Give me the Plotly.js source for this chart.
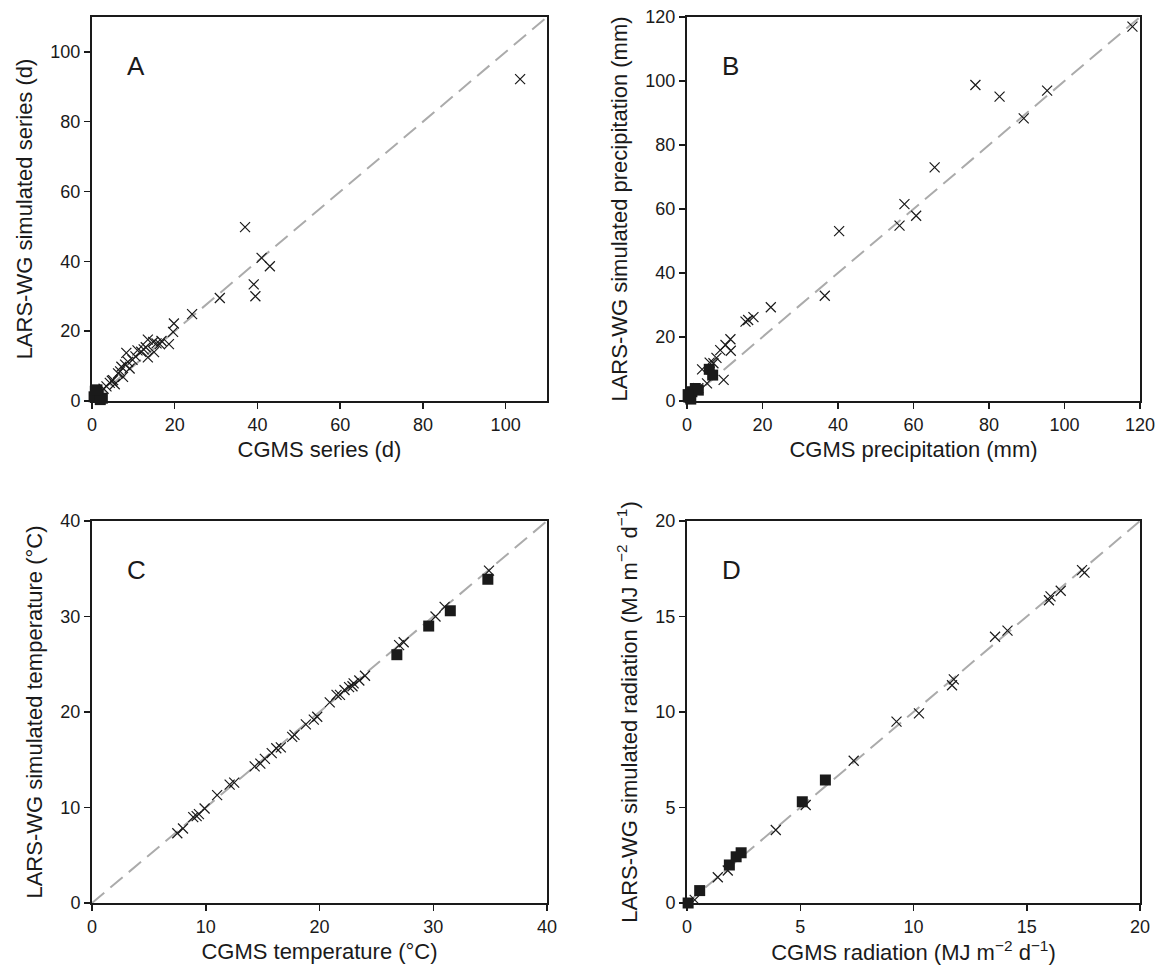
<!DOCTYPE html>
<html>
<head>
<meta charset="utf-8">
<script src="https://cdn.plot.ly/plotly-3.0.1.min.js"></script>
<style>html,body{margin:0;padding:0;background:#fff}#chart{width:1161px;height:974px}</style>
</head>
<body>
<div id="chart"></div>
<script>
// ---------- Panel A: series length (d) ----------
const aCrossX = [37, 41, 43, 39.1, 39.5, 30.9, 24.2, 19.8, 19.6, 18.6, 13.5, 14.8, 15.6, 16.4, 13.5, 11.9, 8.3, 8.7, 7.1, 9.1, 6.3, 7.5, 5.1, 4.3, 5.5, 103.5, 12.5, 10.5, 11, 13, 9.8, 6.8, 8, 3.5, 4.8, 2.8, 15, 16.8];
const aCrossY = [49.8, 41, 38.6, 33.4, 30, 29.5, 24.9, 22.2, 19.8, 16.3, 17.6, 16.9, 16.5, 16.3, 12.5, 14.1, 13.8, 11.2, 9.8, 9.3, 7.9, 6.9, 6, 5.2, 4.8, 92.2, 14.8, 12.8, 14.5, 15.4, 11.8, 8.5, 10.4, 4.2, 5.8, 3.5, 14, 17.2];
const aSqX = [0.8, 1.5, 2.5, 0.5, 2.0, 1.2];
const aSqY = [2.8, 2.0, 0.8, 1.2, 0.4, 3.2];
const aLine = [0, 110];

// ---------- Panel B: precipitation (mm) ----------
const bCrossX = [118, 76.4, 82.8, 95.4, 89.2, 65.6, 57.6, 60.7, 56.3, 40.3, 36.5, 22.2, 17.6, 16.2, 15.5, 11.5, 8.8, 11.6, 4.0, 7.0, 5.3, 9.7, 10.2, 7.8, 3.0, 6.0];
const bCrossY = [117, 98.75, 95.1, 97, 88.3, 73, 61.5, 57.9, 54.8, 53.1, 32.9, 29.3, 26.2, 25.3, 24.8, 19.3, 15.9, 15.7, 9.9, 11.8, 5.5, 6.6, 17.5, 13.5, 4.0, 12.0];
const bSqX = [5.9, 6.8, 1.3, 2.2, 0.5, 1.0, 3.0, 0.3];
const bSqY = [9.9, 8.1, 2.9, 3.9, 1.2, 0.6, 3.4, 2.0];
const bLine = [0, 120];

// ---------- Panel C: temperature (°C) ----------
const cCrossX = [7.5, 8.0, 8.9, 9.4, 9.9, 11.0, 12.1, 12.5, 14.3, 14.8, 15.8, 16.2, 16.6, 17.6, 17.8, 19.5, 19.8, 20.9, 21.5, 21.8, 22.2, 22.6, 23.0, 23.5, 24.0, 27.0, 27.4, 30.2, 31.0, 34.9, 9.2, 15.2, 18.8, 22.9];
const cCrossY = [7.3, 7.8, 9.0, 9.3, 9.9, 11.3, 12.4, 12.6, 14.3, 14.6, 15.7, 16.2, 16.3, 17.4, 17.6, 19.2, 19.5, 21.0, 21.8, 21.8, 22.3, 22.6, 23.0, 23.3, 23.8, 27.0, 27.3, 30.0, 31.0, 34.8, 9.1, 15.1, 18.7, 22.7];
const cSqX = [26.8, 29.6, 31.5, 34.8];
const cSqY = [26.0, 29.0, 30.6, 33.9];
const cLine = [0, 40];

// ---------- Panel D: radiation (MJ m-2 d-1) ----------
const dCrossX = [0.34, 1.36, 1.8, 3.92, 5.24, 7.36, 9.25, 10.24, 11.7, 11.78, 13.6, 14.15, 15.98, 16.05, 16.5, 17.44, 17.55];
const dCrossY = [0.16, 1.35, 1.7, 3.82, 5.13, 7.45, 9.5, 9.93, 11.4, 11.71, 13.94, 14.26, 15.85, 16.05, 16.35, 17.43, 17.3];
const dSqX = [0.05, 0.56, 1.87, 2.17, 2.39, 5.09, 6.11];
const dSqY = [0.0, 0.65, 1.99, 2.42, 2.63, 5.3, 6.44];
const dLine = [0, 20];

// ---------- Text ----------
const panelLabels = ['A', 'B', 'C', 'D'];
const xTitles = ['CGMS series (d)', 'CGMS precipitation (mm)', 'CGMS temperature (°C)', 'CGMS radiation (MJ m<sup>−2</sup> d<sup>−1</sup>)'];
const yTitles = ['LARS-WG simulated series (d)', 'LARS-WG simulated precipitation (mm)', 'LARS-WG simulated temperature (°C)', 'LARS-WG simulated radiation (MJ m<sup>−2</sup> d<sup>−1</sup>)'];

const FONT = '"Liberation Sans", Arial, Helvetica, sans-serif';
const INK = '#1a1a1a';

const panels = [
  {cx: aCrossX, cy: aCrossY, sx: aSqX, sy: aSqY, line: aLine, range: [0, 110], dtick: 20},
  {cx: bCrossX, cy: bCrossY, sx: bSqX, sy: bSqY, line: bLine, range: [0, 120], dtick: 20},
  {cx: cCrossX, cy: cCrossY, sx: cSqX, sy: cSqY, line: cLine, range: [0, 40], dtick: 10},
  {cx: dCrossX, cy: dCrossY, sx: dSqX, sy: dSqY, line: dLine, range: [0, 20], dtick: 5}
];

const W = 1161, H = 974;
const xDom = [[92 / W, 547 / W], [687 / W, 1140 / W]];
const yDom = [[(H - 401) / H, (H - 17) / H], [(H - 903) / H, (H - 521) / H]];

const traces = [];
const layout = {
  width: W, height: H,
  margin: {l: 0, r: 0, t: 0, b: 0},
  paper_bgcolor: '#fff', plot_bgcolor: '#fff',
  showlegend: false,
  font: {family: FONT, color: INK, size: 18},
  annotations: []
};

panels.forEach((p, i) => {
  const n = i + 1;
  const xa = 'x' + (n === 1 ? '' : n), ya = 'y' + (n === 1 ? '' : n);
  traces.push({
    x: p.line, y: p.line, xaxis: xa, yaxis: ya, mode: 'lines', type: 'scatter',
    line: {color: '#ababab', width: 2, dash: '16px,8px'}, hoverinfo: 'skip'
  });
  traces.push({
    x: p.cx, y: p.cy, xaxis: xa, yaxis: ya, mode: 'markers', type: 'scatter', cliponaxis: false,
    marker: {symbol: 'x-thin', size: 10, color: INK, line: {color: INK, width: 1.2}}
  });
  traces.push({
    x: p.sx, y: p.sy, xaxis: xa, yaxis: ya, mode: 'markers', type: 'scatter', cliponaxis: false,
    marker: {symbol: 'square', size: 11, color: INK, line: {width: 0}}
  });
  const common = {
    showgrid: false, zeroline: false, showline: true, mirror: true,
    linecolor: INK, linewidth: 2, ticks: 'outside', ticklen: 6, tickwidth: 1.5, tickcolor: INK,
    tickfont: {family: FONT, size: 18, color: INK},
    range: p.range, dtick: p.dtick, tick0: 0, fixedrange: true
  };
  layout['xaxis' + (n === 1 ? '' : n)] = Object.assign({}, common, {
    domain: xDom[i % 2], anchor: ya,
    title: {text: xTitles[i], font: {family: FONT, size: 22, color: INK}, standoff: 8}
  });
  layout['yaxis' + (n === 1 ? '' : n)] = Object.assign({}, common, {
    domain: yDom[Math.floor(i / 2)], anchor: xa,
    title: {text: yTitles[i], font: {family: FONT, size: 22, color: INK}, standoff: 12}
  });
  layout.annotations.push({
    text: panelLabels[i], xref: xa + ' domain', yref: ya + ' domain',
    x: 0.073, y: 0.872, xanchor: 'left', yanchor: 'middle', showarrow: false,
    font: {family: FONT, size: 26, color: INK}
  });
});

Plotly.newPlot('chart', traces, layout, {staticPlot: true, displayModeBar: false});
</script>
</body>
</html>
